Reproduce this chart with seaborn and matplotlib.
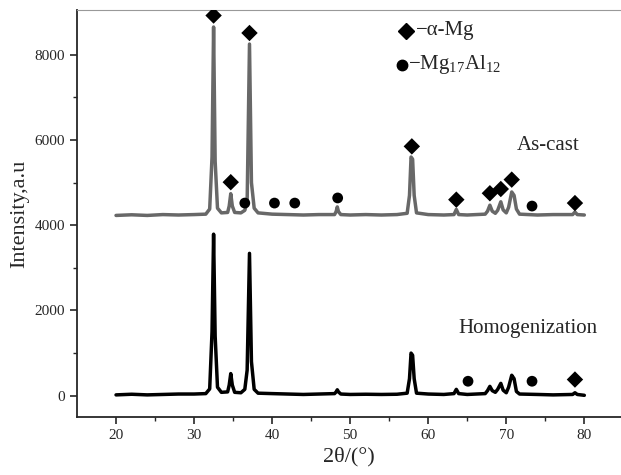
import numpy as np
import pandas as pd
import matplotlib
matplotlib.use("Agg")
import matplotlib.pyplot as plt
import seaborn as sns

# -----------------------
# Data
# -----------------------
two_theta = [20, 22, 24, 26, 28, 30, 31.5, 32.0, 32.3, 32.5, 32.7, 33.0, 33.5,
             34.3, 34.5, 34.7, 34.9, 35.2, 36.0, 36.5, 36.8, 37.1, 37.35, 37.7,
             38.2, 40, 42, 44, 46, 48.0, 48.2, 48.35, 48.5, 48.8, 50, 52, 54, 56,
             57.3, 57.6, 57.8, 58.0, 58.2, 58.5, 60, 62, 63.3, 63.6, 63.9, 65,
             67.3, 67.6, 67.9, 68.2, 68.6, 68.9, 69.3, 69.6, 70.0, 70.3, 70.7,
             71.0, 71.3, 71.7, 74, 76, 78.5, 78.8, 79.1, 80]

as_cast = [4230, 4245, 4230, 4250, 4240, 4250, 4260, 4380, 5600, 8650, 5500,
           4400, 4290, 4300, 4450, 4740, 4450, 4300, 4290, 4350, 4550, 8250,
           5000, 4400, 4290, 4260, 4250, 4240, 4250, 4250, 4320, 4430, 4320,
           4250, 4240, 4250, 4240, 4250, 4280, 4700, 5600, 5550, 4700, 4290,
           4250, 4240, 4250, 4370, 4250, 4240, 4260, 4330, 4470, 4330, 4280,
           4350, 4550, 4360, 4290, 4420, 4780, 4700, 4380, 4260, 4240, 4250,
           4250, 4310, 4250, 4240]

homog = [20, 35, 20, 30, 40, 40, 50, 160, 1500, 3790, 1400, 200, 80, 90, 250,
         520, 250, 80, 70, 150, 600, 3340, 800, 150, 60, 50, 40, 30, 40, 50, 90,
         140, 90, 40, 30, 35, 30, 35, 60, 400, 1000, 950, 400, 60, 40, 30, 50,
         150, 50, 30, 50, 120, 220, 120, 80, 150, 290, 130, 70, 200, 480, 400,
         100, 40, 30, 20, 30, 70, 30, 10]

# phase markers
mg_x = [32.5, 34.7, 37.1, 57.9, 63.6, 67.9, 69.3, 70.7, 78.8, 78.8]
mg_y = [8920, 5010, 8510, 5850, 4600, 4750, 4850, 5070, 4520, 380]
al_x = [36.5, 40.3, 42.9, 48.4, 73.3, 65.1, 73.3]
al_y = [4520, 4520, 4520, 4640, 4450, 340, 340]

df = pd.DataFrame({"2theta": two_theta, "As-cast": as_cast, "Homogenization": homog})

sns.set_style("ticks")
plt.rcParams["font.family"] = ["Liberation Serif", "DejaVu Serif"]
plt.rcParams["mathtext.fontset"] = "custom"
plt.rcParams["mathtext.rm"] = "Liberation Serif"
plt.rcParams["mathtext.it"] = "Liberation Serif:italic"

fig = plt.figure(figsize=(6.21, 4.75), dpi=100)
ax = fig.add_axes([0.124, 0.122, 0.876, 0.857])

sns.lineplot(data=df, x="2theta", y="As-cast", color="#686868", lw=2.5, ax=ax)
sns.lineplot(data=df, x="2theta", y="Homogenization", color="black", lw=2.5, ax=ax)
sns.scatterplot(x=mg_x, y=mg_y, marker="D", s=70, color="black", edgecolor="none", ax=ax, zorder=5)
sns.scatterplot(x=al_x, y=al_y, marker="o", s=60, color="black", edgecolor="none", ax=ax, zorder=5)

# legend-like labels
ax.plot([57.2], [8560], marker="D", ms=8, color="black", ls="none")
ax.text(58.4, 8560, "\u2212\u03b1-Mg", fontsize=15, va="center")
ax.plot([56.6], [7760], marker="o", ms=7.5, color="black", ls="none")
ax.text(57.4, 7760, "\u2212Mg$_{17}$Al$_{12}$", fontsize=15, va="center")

ax.text(71.4, 5870, "As-cast", fontsize=15, va="center")
ax.text(63.9, 1580, "Homogenization", fontsize=15, va="center")

ax.set_xlim(15, 84.7)
ax.set_ylim(-500, 9050)
ax.set_xticks([20, 30, 40, 50, 60, 70, 80])
ax.set_xticks([25, 35, 45, 55, 65, 75], minor=True)
ax.set_yticks([0, 2000, 4000, 6000, 8000])
ax.set_yticks([1000, 3000, 5000, 7000], minor=True)
ax.tick_params(axis="both", which="major", labelsize=11, length=5, width=1.2, direction="out")
ax.tick_params(axis="both", which="minor", length=3, width=1.0, direction="out")

ax.set_xlabel("2\u03b8/(\u00b0)", fontsize=16)
ax.set_ylabel("Intensity,a.u", fontsize=16)

ax.spines["right"].set_visible(False)
ax.spines["top"].set_color("#999999")
ax.spines["left"].set_linewidth(1.3)
ax.spines["bottom"].set_linewidth(1.3)

fig.savefig("out.png", dpi=100)
